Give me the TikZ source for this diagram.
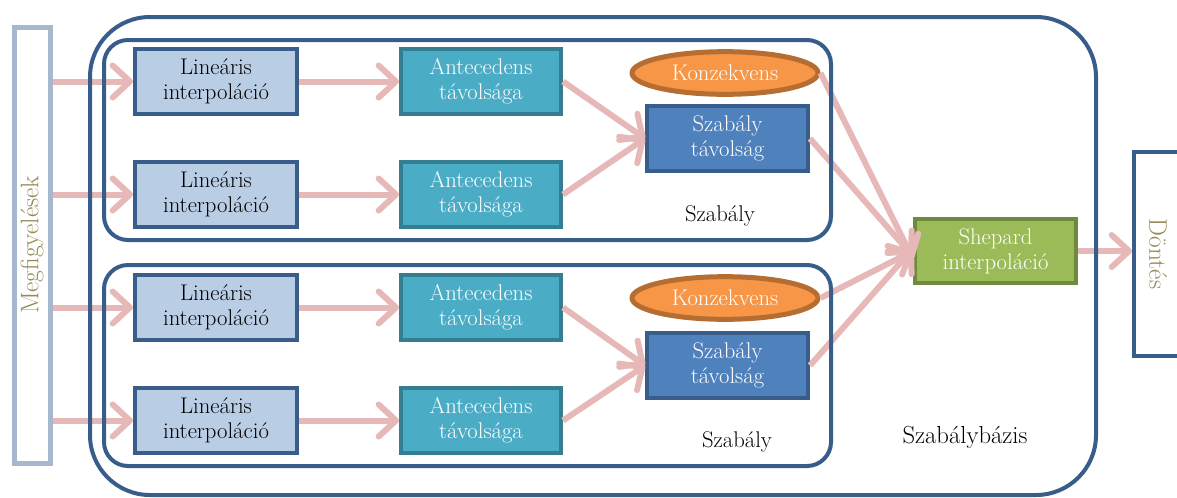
\documentclass[tikz,border=0pt]{standalone}
\usetikzlibrary{positioning,shapes.geometric,arrows.meta}

\definecolor{darkblue}{HTML}{385D8A}
\definecolor{linfill}{HTML}{B9CDE5}
\definecolor{antfill}{HTML}{4BACC6}
\definecolor{antline}{HTML}{357D91}
\definecolor{konzfill}{HTML}{F79646}
\definecolor{konzline}{HTML}{B66D31}
\definecolor{tavfill}{HTML}{4F81BD}
\definecolor{shepfill}{HTML}{9BBB59}
\definecolor{shepline}{HTML}{71893F}
\definecolor{arrowpink}{HTML}{E6B9B8}
\definecolor{sideline}{HTML}{A6B8CE}
\definecolor{olivetext}{HTML}{948A54}

\begin{document}
\begin{tikzpicture}[x=0.75pt,y=-0.75pt,
    every node/.style={font=\fontsize{17}{18.5}\selectfont},
    linbox/.style={draw=darkblue,fill=linfill,line width=3pt,align=center,
        minimum width=121.5pt,minimum height=48.75pt,inner sep=0pt},
    antbox/.style={draw=antline,fill=antfill,text=white,line width=3pt,align=center,
        minimum width=120pt,minimum height=48.75pt,inner sep=0pt},
    tavbox/.style={draw=darkblue,fill=tavfill,text=white,line width=3pt,align=center,
        minimum width=120.75pt,minimum height=48.75pt,inner sep=0pt},
    konz/.style={ellipse,draw=konzline,fill=konzfill,text=white,line width=3.75pt,
        minimum width=139.5pt,minimum height=32pt,inner sep=0pt},
    shepbox/.style={draw=shepline,fill=shepfill,text=white,line width=3pt,align=center,
        minimum width=120.75pt,minimum height=48pt,inner sep=0pt},
    sidebox/.style={draw,fill=white,inner sep=0pt},
    sidetext/.style={text=olivetext,font=\fontsize{19}{20}\selectfont},
    rulebox/.style={draw=darkblue,line width=3pt,rounded corners=18pt,
        minimum width=545.25pt,minimum height=150pt,inner sep=0pt},
    arr/.style={draw=arrowpink,line width=4.5pt,
        -{Straight Barb[length=13pt,width=24pt,round]}}]

\path[use as bounding box,clip] (0,0) rectangle (1177,497);

% side boxes
\node (meg) [sidebox,draw=sideline,line width=3.75pt,minimum width=27pt,minimum height=327pt,
    label={[rotate=90,sidetext]center:Megfigyelések}] at (32,245) {};
\node (dontes) [sidebox,draw=darkblue,line width=3pt,minimum width=36pt,minimum height=153pt,
    label={[rotate=-90,sidetext]center:Döntés}] at (1158,254) {};

% inputs
\node (lin1) [linbox] at (216,81.5) {Lineáris\\interpoláció};
\node (lin2) [linbox] at (216,194.5) {Lineáris\\interpoláció};
\node (lin3) [linbox] at (216,307.5) {Lineáris\\interpoláció};
\node (lin4) [linbox] at (216,420.5) {Lineáris\\interpoláció};
\node (ant1) [antbox,right=75pt of lin1] {Antecedens\\távolsága};
\node (ant2) [antbox,right=75pt of lin2] {Antecedens\\távolsága};
\node (ant3) [antbox,right=75pt of lin3] {Antecedens\\távolsága};
\node (ant4) [antbox,right=75pt of lin4] {Antecedens\\távolsága};

% rules
\node (konz1) [konz] at (725,73) {Konzekvens};
\node (tav1) [tavbox] at (727.5,138.5) {Szabály\\távolság};
\node (konz2) [konz] at (725,298) {Konzekvens};
\node (tav2) [tavbox] at (727.5,365.5) {Szabály\\távolság};
\node (shep) [shepbox] at (995.5,251) {Shepard\\interpoláció};

\foreach \i in {1,...,4} {
    \draw[arr] (meg.east |- lin\i) -- (lin\i);
    \draw[arr] (lin\i) -- (ant\i);
}
\draw[arr] (ant1.east) -- (tav1.west);
\draw[arr] (ant2.east) -- (tav1.west);
\draw[arr] (ant3.east) -- (tav2.west);
\draw[arr] (ant4.east) -- (tav2.west);
\draw[arr] (konz1.east) -- ([yshift=-6pt]shep.west);
\draw[arr] (tav1.east) -- ([yshift=-4pt]shep.west);
\draw[arr] (konz2.east) -- (shep.west);
\draw[arr] (tav2.east) -- ([yshift=2pt]shep.west);
\draw[arr] (shep.east) -- (shep -| dontes.west);

% containers
\node (rule1) [rulebox] at (467.5,140) {};
\node (rule2) [rulebox,minimum height=150.75pt] at (467.5,365.5) {};
\node (base) [rulebox,rounded corners=45pt,minimum width=754.5pt,minimum height=358.5pt] at (593,256) {};
\node (rule1lbl) at (720,216) {Szabály};
\node (rule2lbl) at (737,442) {Szabály};
\node (baselbl) at (965,437) {\fontsize{18.5}{20}\selectfont Szabálybázis};
\end{tikzpicture}
\end{document}
